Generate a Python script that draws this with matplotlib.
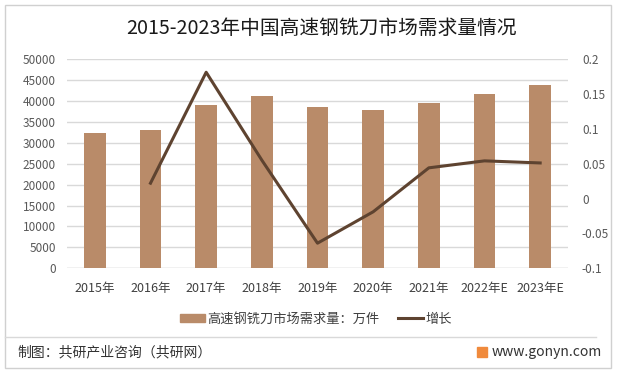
import matplotlib
matplotlib.use('Agg')
import matplotlib.pyplot as plt
from matplotlib.patches import Rectangle, Patch
from matplotlib.lines import Line2D

plt.rcParams['font.family'] = ['Noto Sans CJK SC', 'DejaVu Sans']

years = ['2015年', '2016年', '2017年', '2018年', '2019年', '2020年', '2021年', '2022年E', '2023年E']
demand = [32380, 33100, 39100, 41240, 38610, 37890, 39570, 41720, 43870]
growth = [None, 0.022, 0.181, 0.055, -0.064, -0.019, 0.044, 0.054, 0.051]

bar_color = '#B98B69'
line_color = '#5E4330'
grid_color = '#D9D9D9'
text_color = '#595959'

W, H = 618, 376
fig = plt.figure(figsize=(W / 100, H / 100), dpi=100)

def fx(px):
  return px / W

def fy(py):
  return 1 - py / H

# outer frame and footer separator
fig.patches.append(Rectangle((fx(5), fy(368)), fx(606), 363 / H, transform=fig.transFigure,
                             fill=False, edgecolor='#D0D0D0', linewidth=1))
fig.lines.append(Line2D([fx(5), fx(596)], [fy(337), fy(337)], transform=fig.transFigure,
                        color='#D9D9D9', linewidth=1))

ax = fig.add_axes([fx(67), fy(268.3), fx(501), 209.3 / H])
x = list(range(len(years)))
ax.bar(x, demand, width=0.39, color=bar_color, zorder=2)
ax.set_ylim(0, 50000)
ax.set_yticks(range(0, 50001, 5000))
ax.set_xlim(-0.5, len(years) - 0.5)
ax.set_xticks(x)
ax.set_xticklabels(years)
ax.grid(axis='y', color=grid_color, linewidth=1, zorder=0)
for s in ax.spines.values():
  s.set_visible(False)
ax.axhline(0, color=grid_color, linewidth=1, zorder=1)
ax.tick_params(axis='both', length=0, labelsize=8.5, colors=text_color)
ax.tick_params(axis='x', pad=10, labelsize=9, labelcolor='#404040')
ax.tick_params(axis='y', pad=8)

ax2 = ax.twinx()
gx = [i for i, g in zip(x, growth) if g is not None]
gy = [g for g in growth if g is not None]
ax2.plot(gx, gy, color=line_color, linewidth=2.2, zorder=3)
ax2.set_ylim(-0.1, 0.2)
ax2.set_yticks([-0.1, -0.05, 0, 0.05, 0.1, 0.15, 0.2])
ax2.set_yticklabels(['-0.1', '-0.05', '0', '0.05', '0.1', '0.15', '0.2'])
for s in ax2.spines.values():
  s.set_visible(False)
ax2.tick_params(axis='y', length=0, labelsize=8.5, colors=text_color, pad=10)

fig.text(fx(322), fy(28), '2015-2023年中国高速钢铣刀市场需求量情况', ha='center', va='center',
         fontsize=14.2, color='#1A1A1A')

handles = [Patch(color=bar_color, label='高速钢铣刀市场需求量：万件'),
           Line2D([], [], color=line_color, linewidth=2.2, label='增长')]
fig.legend(handles=handles, loc='center', bbox_to_anchor=(fx(316), fy(319)), ncol=2,
           frameon=False, fontsize=9.5, handlelength=1.9, handleheight=0.6,
           handletextpad=0.2, columnspacing=1.4, labelcolor='#404040')

fig.text(fx(17), fy(352), '制图：共研产业咨询（共研网）', ha='left', va='center',
         fontsize=10, color='#333333')
fig.patches.append(Rectangle((fx(477), fy(357)), fx(10), 10 / H, transform=fig.transFigure,
                             color='#F08A3C'))
fig.text(fx(492), fy(352), 'www.gonyn.com', ha='left', va='center',
         fontsize=10, color='#333333')

fig.savefig('out.png', dpi=100)
